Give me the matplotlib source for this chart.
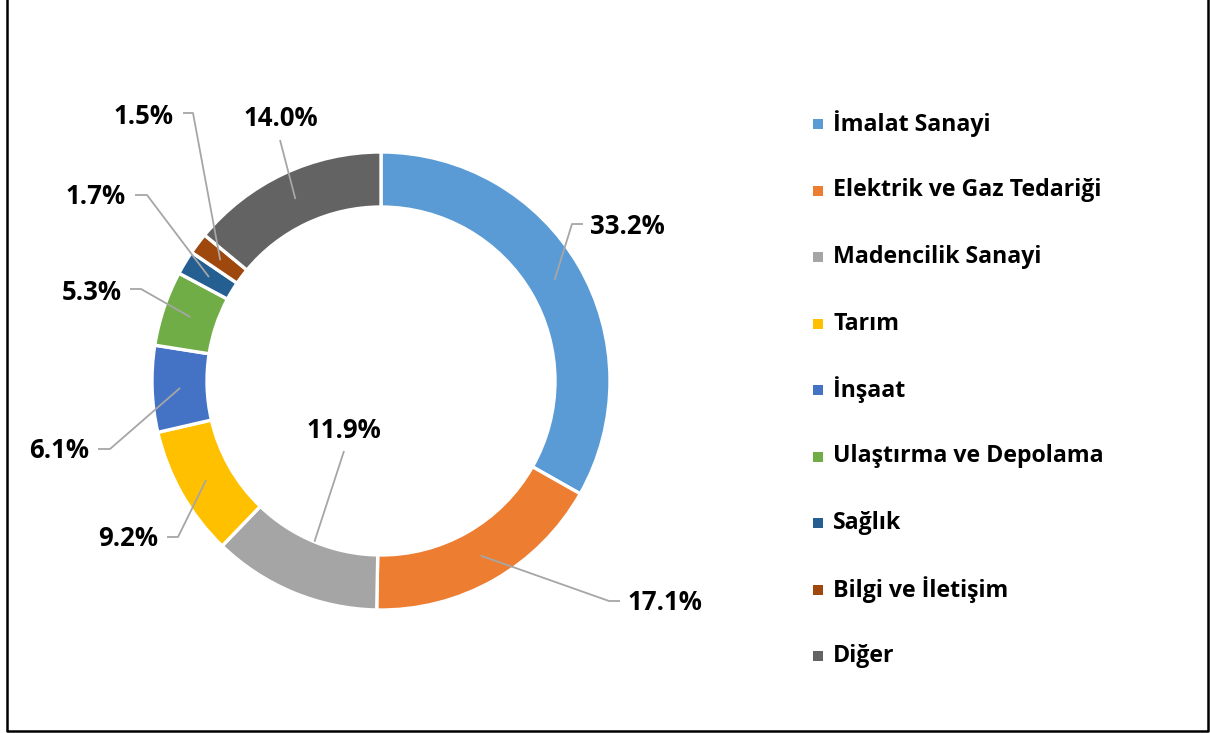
import numpy as np
import matplotlib
matplotlib.use("Agg")
import matplotlib.pyplot as plt
from matplotlib.patches import Rectangle

# ---- data ----
categories = ["İmalat Sanayi", "Elektrik ve Gaz Tedariği", "Madencilik Sanayi", "Tarım",
              "İnşaat", "Ulaştırma ve Depolama", "Sağlık", "Bilgi ve İletişim", "Diğer"]
values = [33.2, 17.1, 11.9, 9.2, 6.1, 5.3, 1.7, 1.5, 14.0]
colors = ["#5B9BD5", "#ED7D31", "#A5A5A5", "#FFC000", "#4472C4",
          "#70AD47", "#255E91", "#9E480E", "#636363"]

# ---- layout (pixel coords, origin top-left) ----
W, H = 1210, 733
cx, cy = 381, 381
r_out, r_in = 229, 174
# label anchor (x, y), horizontal alignment, elbow point, line end near label, line start radius
label_layout = [
    ((590, 226), "left",   (572, 224), (583, 224), 201),
    ((628, 603), "left",   (609, 601), (620, 601), 201),
    ((344, 430), "center", None,       (344, 451), 174),
    ((158, 539), "right",  (178, 537), (167, 537), 201),
    ((89, 451),  "right",  (110, 449), (98, 449),  201),
    ((122, 292), "right",  (141, 289), (130, 289), 201),
    ((126, 197), "right",  (147, 195), (135, 195), 201),
    ((174, 116), "right",  (193, 113), (183, 113), 201),
    ((281, 118), "center", None,       (280, 140), 201),
]
legend_x, legend_y0, legend_dy = 813, 124, 66.5

def Y(y):
    return H - y

plt.rcParams['font.family'] = ['Open Sans', 'DejaVu Sans']
fig = plt.figure(figsize=(W / 100, H / 100), dpi=100)
ax = fig.add_axes([0, 0, 1, 1])

wedges, _ = ax.pie(values, colors=colors, startangle=90, counterclock=False,
                   center=(cx, Y(cy)), radius=r_out, frame=True,
                   wedgeprops=dict(width=r_out - r_in, edgecolor='white', linewidth=2.4))
ax.set_xlim(0, W)
ax.set_ylim(0, H)
ax.set_aspect('equal')
ax.axis('off')

# labels + leader lines
total = sum(values)
start = 90.0
for v, (txt_pos, ha, elbow, end, rs) in zip(values, label_layout):
    mid = start - v / total * 360 / 2
    start -= v / total * 360
    a = np.deg2rad(mid)
    sx, sy = cx + rs * np.cos(a), cy - rs * np.sin(a)
    pts = [(sx, sy)]
    if elbow is not None:
        pts.append(elbow)
    pts.append(end)
    xs = [p[0] for p in pts]
    ys = [Y(p[1]) for p in pts]
    ax.plot(xs, ys, color='#A6A6A6', lw=1.3, solid_capstyle='butt', zorder=5)
    ax.text(txt_pos[0], Y(txt_pos[1]), f"{v:.1f}%", ha=ha, va='center',
            fontsize=18.5, fontweight='bold', color='black', zorder=6)

# legend
for i, (c, name) in enumerate(zip(colors, categories)):
    yy = legend_y0 + i * legend_dy
    ax.add_patch(Rectangle((legend_x, Y(yy) - 5), 10, 10, facecolor=c, edgecolor='none'))
    ax.text(legend_x + 20, Y(yy), name, ha='left', va='center', fontsize=16.7,
            fontweight='bold', color='black')

# border
ax.plot([7, 7, 1208, 1208], [H, Y(731), Y(731), H], color='black', lw=1.8, clip_on=False)

fig.savefig("out.png", dpi=100)
